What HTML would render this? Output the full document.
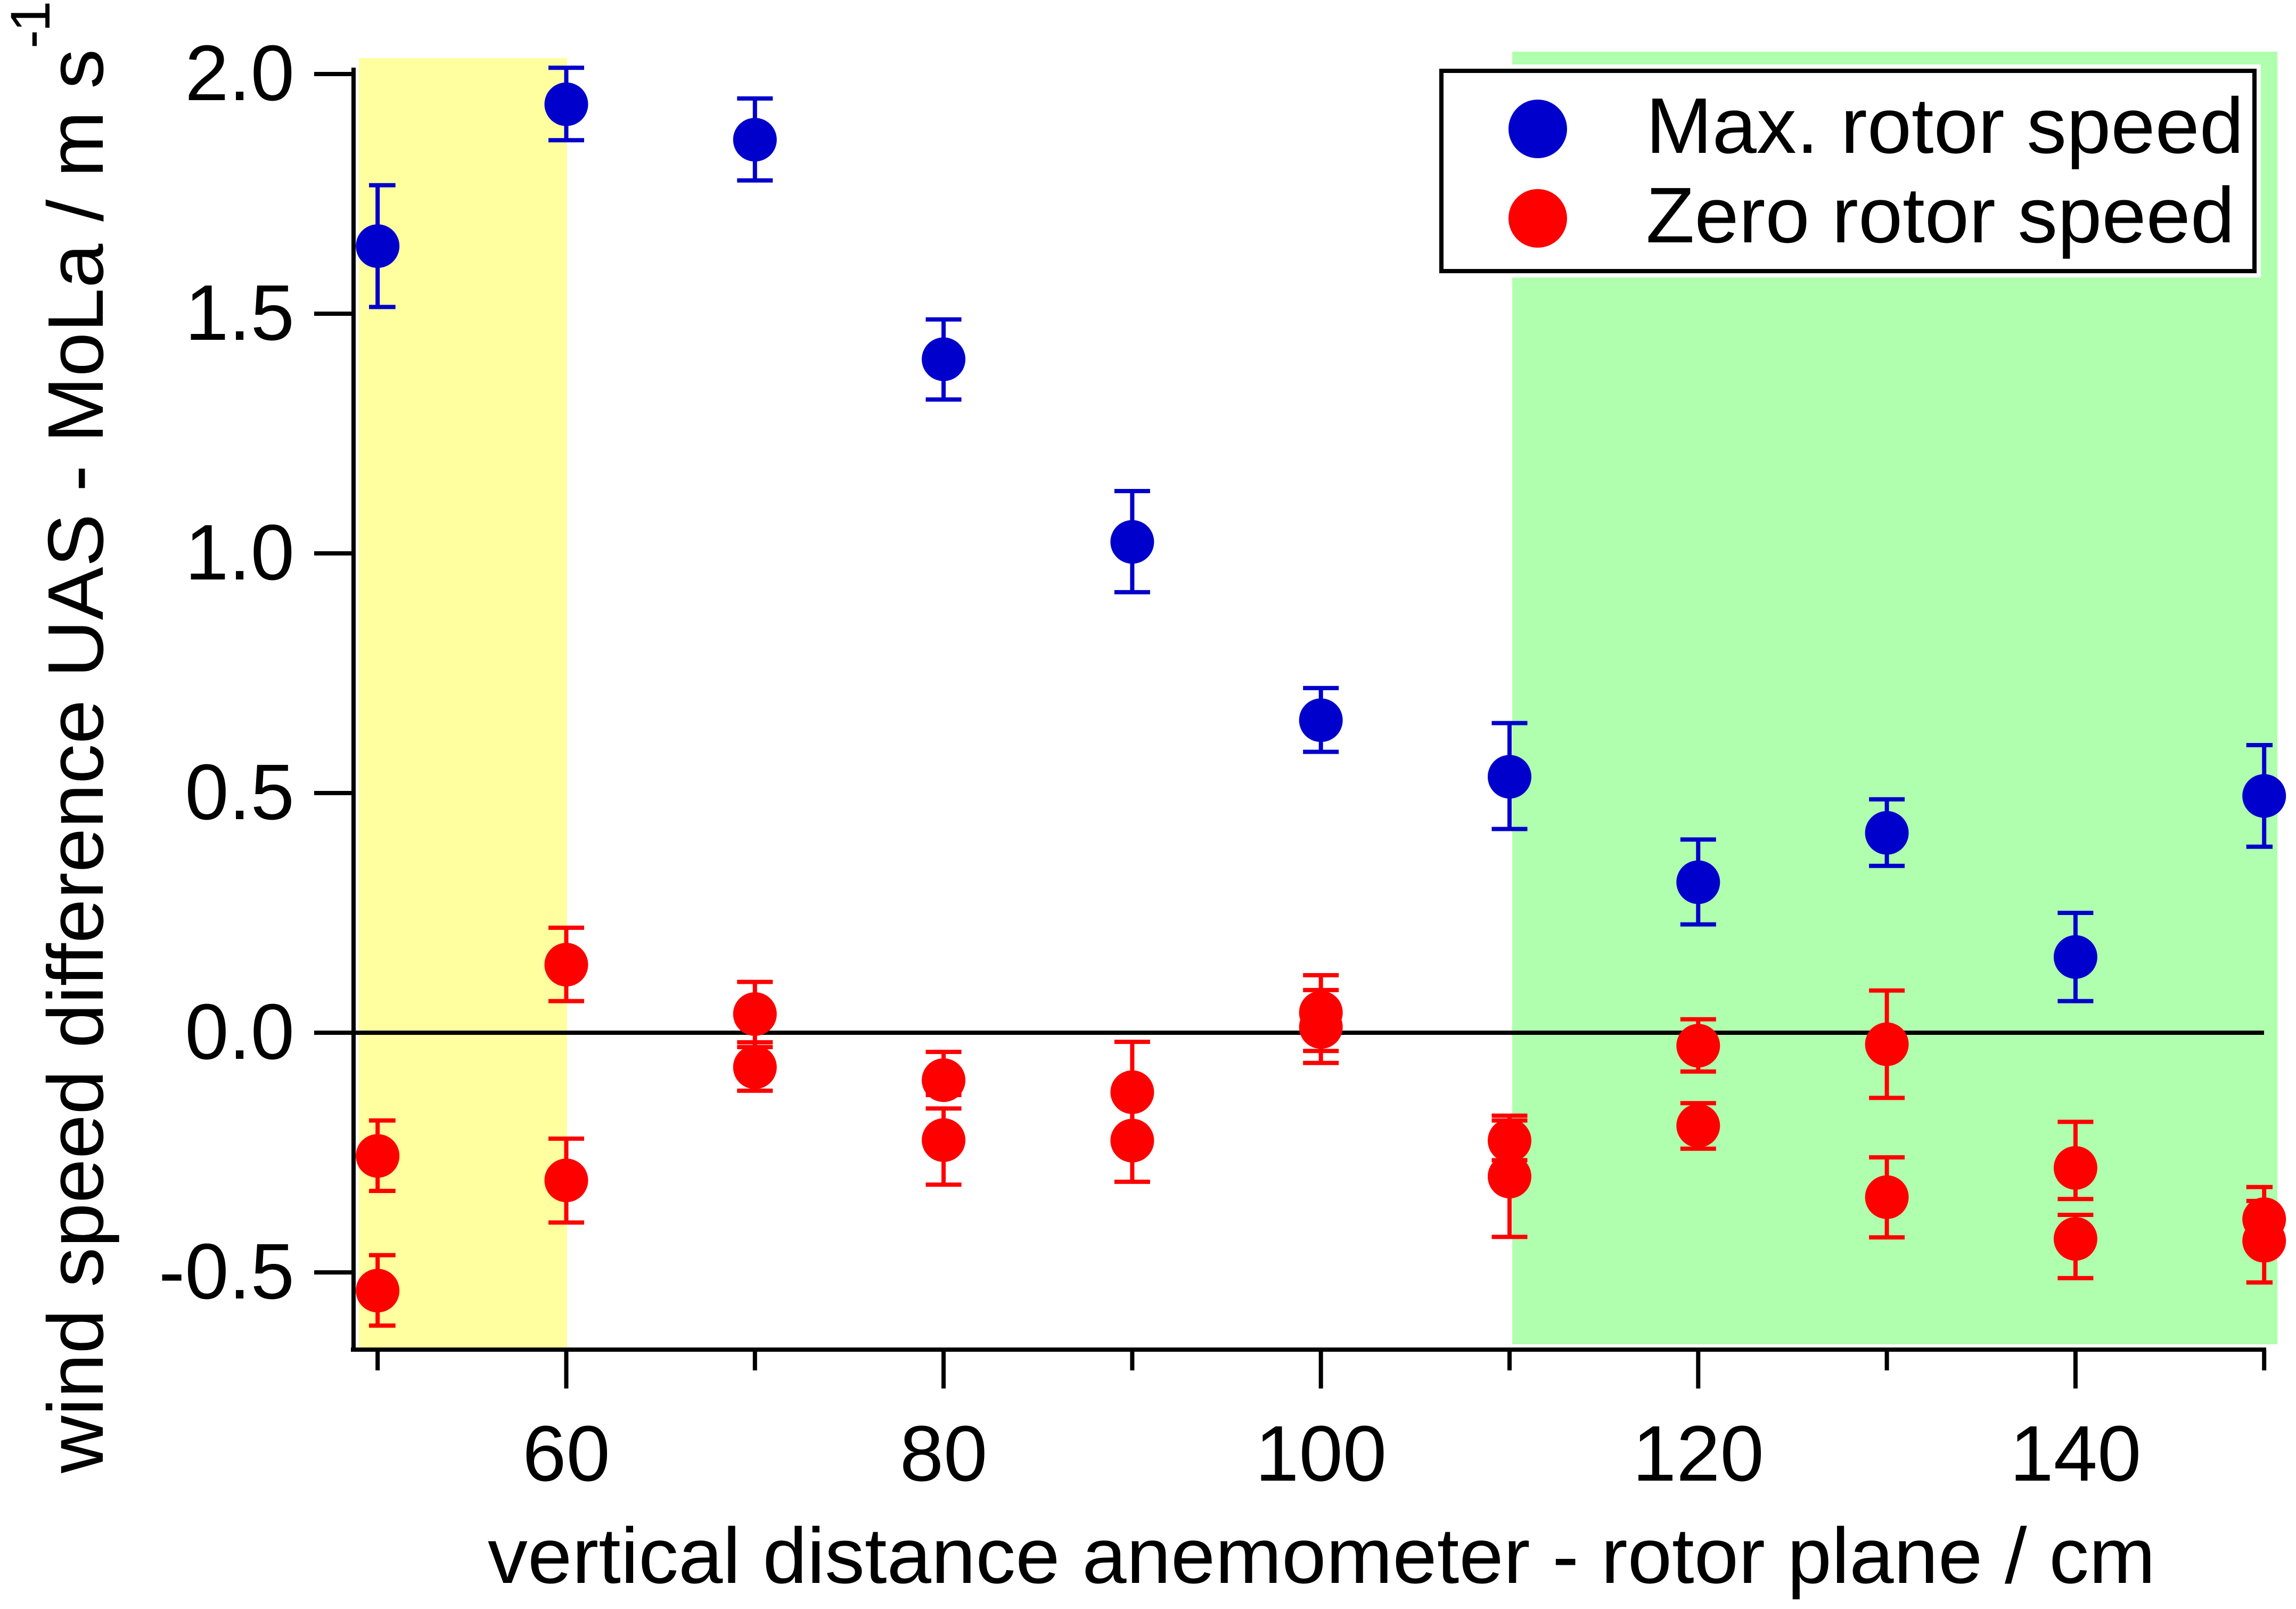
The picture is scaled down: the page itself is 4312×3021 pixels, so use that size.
<!DOCTYPE html>
<html lang="en">
<head>
<meta charset="utf-8">
<title>Wind speed difference vs anemometer distance</title>
<style>
html,body{margin:0;padding:0;background:#fff;width:4312px;height:3021px;overflow:hidden}
svg{display:block}
text{font-family:"Liberation Sans",Arial,sans-serif;fill:#000}
</style>
</head>
<body>
<svg id="chart" xmlns="http://www.w3.org/2000/svg" width="4312" height="3021" viewBox="0 0 4312 3021">
  <rect x="0" y="0" width="4312" height="3021" fill="#fff"/>
  <rect x="674" y="109" width="391" height="2421" fill="#FFFF9F"/>
  <rect x="2840" y="97" width="1437" height="2427" fill="#AFFFAF"/>
  <rect x="2695" y="121" width="1551" height="400" fill="#fff"/>
  <line x1="664" y1="1939" x2="4252" y2="1939" stroke="#000" stroke-width="8"/>
  <g id="axes">
    <line x1="664" y1="127" x2="664" y2="2538" stroke="#000" stroke-width="8"/>
    <line x1="659" y1="2534" x2="4256" y2="2534" stroke="#000" stroke-width="8"/>
  </g>
  <g id="series"></g>
  <text transform="translate(193 2766) rotate(-90)" font-size="148" textLength="2674" lengthAdjust="spacingAndGlyphs">wind speed difference UAS - MoLa / m s</text>
  <text transform="translate(93 91) rotate(-90)" font-size="105">-<tspan dx="-4">1</tspan></text>
  <text x="916" y="2972" font-size="148" textLength="3132" lengthAdjust="spacingAndGlyphs">vertical distance anemometer - rotor plane / cm</text>
  <g>
    <rect x="2707" y="133" width="1527" height="376" fill="#fff" stroke="#000" stroke-width="8"/>
    <circle cx="2888" cy="242" r="55" fill="#0000CC"/>
    <text x="3091" y="287" font-size="148" textLength="1123" lengthAdjust="spacingAndGlyphs">Max. rotor speed</text>
    <circle cx="2888" cy="410" r="55" fill="#FF0000"/>
    <text x="3091" y="455" font-size="148" textLength="1106" lengthAdjust="spacingAndGlyphs">Zero rotor speed</text>
  </g>
</svg>
<script>
const categories = [50, 60, 70, 80, 90, 100, 110, 120, 130, 140, 150];

const maxRotorValues = [1.641, 1.937, 1.863, 1.405, 1.024, 0.652, 0.534, 0.314, 0.417, 0.158, 0.494];
const maxRotorHigh   = [1.768, 2.013, 1.949, 1.488, 1.130, 0.719, 0.646, 0.403, 0.487, 0.250, 0.600];
const maxRotorLow    = [1.514, 1.862, 1.778, 1.321, 0.919, 0.586, 0.425, 0.226, 0.348, 0.066, 0.388];

const zeroRotorUpperValues = [-0.257, 0.142, 0.039, -0.099, -0.124, 0.042, -0.225, -0.027, -0.024, -0.282, -0.389];
const zeroRotorUpperHigh   = [-0.183, 0.219, 0.106, -0.040, -0.019, 0.120, -0.183, 0.028, 0.088, -0.186, -0.322];
const zeroRotorUpperLow    = [-0.330, 0.066, -0.030, -0.130, -0.229, -0.038, -0.266, -0.081, -0.136, -0.347, -0.456];

const zeroRotorLowerValues = [-0.538, -0.308, -0.072, -0.224, -0.225, 0.012, -0.300, -0.194, -0.343, -0.430, -0.434];
const zeroRotorLowerHigh   = [-0.464, -0.221, -0.020, -0.158, -0.130, 0.089, -0.173, -0.147, -0.260, -0.380, -0.351];
const zeroRotorLowerLow    = [-0.611, -0.396, -0.121, -0.317, -0.311, -0.063, -0.426, -0.242, -0.427, -0.512, -0.521];

const yTickValues = [-0.5, 0, 0.5, 1, 1.5, 2];
const yTickLabels = ['-0.5', '0.0', '0.5', '1.0', '1.5', '2.0'];
const xTickValues = [50, 60, 70, 80, 90, 100, 110, 120, 130, 140, 150];
const xTickLabels = ['', '60', '', '80', '', '100', '', '120', '', '140', ''];

const NS = 'http://www.w3.org/2000/svg';
function xScale(v) { return 709.2 + (v - 50) * 35.43; }
function yScale(v) { return 1939 - 900 * v; }
function make(tag, attrs, parent) {
  const el = document.createElementNS(NS, tag);
  for (const k in attrs) el.setAttribute(k, attrs[k]);
  parent.appendChild(el);
  return el;
}

const axes = document.getElementById('axes');
yTickValues.forEach(function (v, i) {
  const tick = make('line', { x1: 590, x2: 664, y1: yScale(v), y2: yScale(v), stroke: '#000', 'stroke-width': 8 }, axes);
  
  
  const label = make('text', { x: 553, y: yScale(v) + 49, 'font-size': 148, 'text-anchor': 'end' }, axes);
  
  
  label.textContent = yTickLabels[i];
});
xTickValues.forEach(function (v, i) {
  const isMajor = xTickLabels[i] !== '';
  const tick = make('line', { x1: xScale(v), x2: xScale(v), y1: 2534, y2: isMajor ? 2607 : 2573, stroke: '#000', 'stroke-width': 8 }, axes);
  
  
  if (isMajor) {
    const label = make('text', { x: xScale(v), y: 2780, 'font-size': 148, 'text-anchor': 'middle' }, axes);
    
    
    label.textContent = xTickLabels[i];
  }
});

const seriesGroup = document.getElementById('series');
function capEnds(cx) {
  return [Math.max(693, cx - 33.5), Math.min(4268, cx + 33.5)];
}
function drawSeries(values, high, low, color, seriesName) {
  categories.forEach(function (c, i) {
    const cx = xScale(c);
    const yHigh = yScale(high[i]);
    const yLow = yScale(low[i]);
    const ends = capEnds(cx);
    const stem = make('line', { x1: cx, x2: cx, y1: yHigh, y2: yLow, stroke: color, 'stroke-width': 8 }, seriesGroup);
    
    
    const capTop = make('line', { x1: ends[0], x2: ends[1], y1: yHigh, y2: yHigh, stroke: color, 'stroke-width': 8 }, seriesGroup);
    
    
    const capBottom = make('line', { x1: ends[0], x2: ends[1], y1: yLow, y2: yLow, stroke: color, 'stroke-width': 8 }, seriesGroup);
    
    
    const point = make('circle', { cx: cx, cy: yScale(values[i]), r: 41, fill: color }, seriesGroup);
    
    
  });
}
drawSeries(maxRotorValues, maxRotorHigh, maxRotorLow, '#0000CC', 'max-rotor-speed');
drawSeries(zeroRotorUpperValues, zeroRotorUpperHigh, zeroRotorUpperLow, '#FF0000', 'zero-rotor-speed-upper');
drawSeries(zeroRotorLowerValues, zeroRotorLowerHigh, zeroRotorLowerLow, '#FF0000', 'zero-rotor-speed-lower');
</script>
</body>
</html>
